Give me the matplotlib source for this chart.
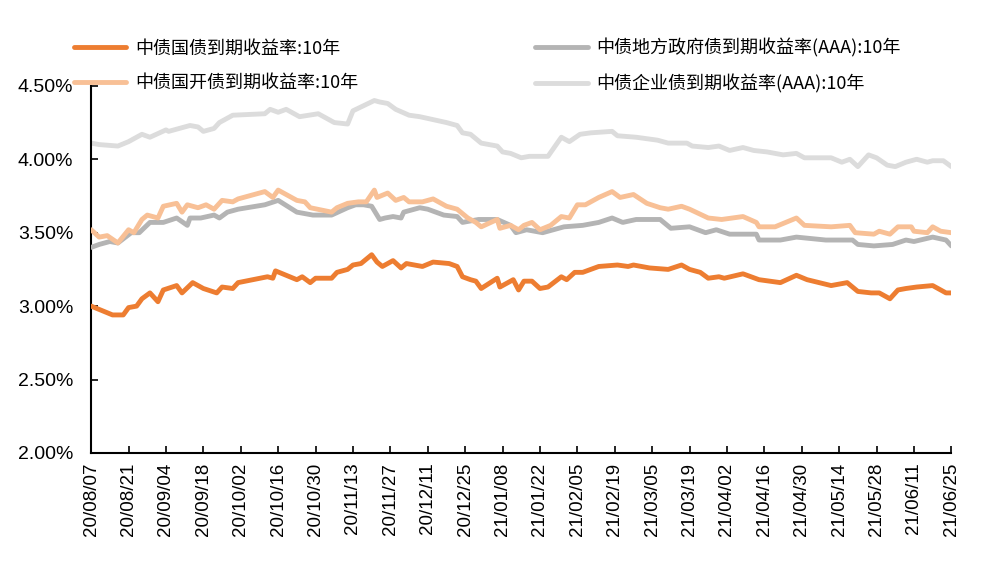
import matplotlib
matplotlib.use("Agg")
import matplotlib.pyplot as plt
import matplotlib.dates as md
import pandas as pd

plt.rcParams['font.family'] = ['Liberation Sans', 'Noto Sans CJK SC', 'DejaVu Sans']

start = pd.Timestamp('2020-08-07')

# days since 2020-08-07, yields in %
gov_days = [0, 8, 12, 14, 17, 19, 22, 25, 27, 32, 34, 38, 42, 47, 49, 53, 55, 66, 68, 69, 77, 79, 82, 84,
            90, 92, 96, 98, 101, 105, 107, 109, 113, 116, 118, 124, 128, 134, 137, 139, 142, 144, 146,
            152, 153, 156, 158, 160, 162, 165, 168, 171, 176, 178, 181, 184, 190, 197, 201, 203, 209,
            216, 221, 224, 228, 231, 235, 237, 244, 250, 258, 264, 268, 277, 283, 287, 292, 295, 299,
            302, 305, 309, 315, 318, 320, 322]
gov_vals = [3.00, 2.94, 2.94, 2.99, 3.00, 3.05, 3.09, 3.03, 3.11, 3.14, 3.09, 3.16, 3.12, 3.09, 3.13,
            3.12, 3.16, 3.20, 3.19, 3.24, 3.18, 3.20, 3.16, 3.19, 3.19, 3.23, 3.25, 3.28, 3.29, 3.35,
            3.30, 3.27, 3.31, 3.26, 3.29, 3.27, 3.30, 3.29, 3.27, 3.20, 3.18, 3.17, 3.12, 3.19, 3.13,
            3.16, 3.18, 3.11, 3.17, 3.17, 3.12, 3.13, 3.20, 3.18, 3.23, 3.23, 3.27, 3.28, 3.27, 3.28,
            3.26, 3.25, 3.28, 3.25, 3.23, 3.19, 3.20, 3.19, 3.22, 3.18, 3.16, 3.21, 3.18, 3.14, 3.16,
            3.10, 3.09, 3.09, 3.05, 3.11, 3.12, 3.13, 3.14, 3.11, 3.09, 3.09]

cdb_days = [0, 3, 6, 10, 14, 16, 19, 21, 25, 27, 32, 34, 36, 40, 43, 46, 49, 53, 55, 65, 68, 70, 77,
            80, 82, 90, 92, 96, 100, 103, 106, 107, 111, 114, 117, 119, 124, 128, 133, 137, 141, 144,
            146, 152, 153, 157, 160, 162, 165, 168, 172, 176, 179, 182, 185, 190, 195, 198, 203, 208,
            213, 216, 221, 224, 231, 236, 244, 249, 250, 256, 264, 267, 277, 284, 286, 293, 295, 299,
            302, 307, 308, 313, 315, 318, 322]
cdb_vals = [3.52, 3.47, 3.48, 3.43, 3.52, 3.50, 3.59, 3.62, 3.60, 3.68, 3.70, 3.64, 3.69, 3.67, 3.69,
            3.66, 3.72, 3.71, 3.73, 3.78, 3.74, 3.79, 3.72, 3.71, 3.67, 3.64, 3.67, 3.70, 3.71, 3.71,
            3.79, 3.74, 3.77, 3.72, 3.74, 3.71, 3.71, 3.73, 3.68, 3.66, 3.60, 3.57, 3.54, 3.59, 3.53,
            3.55, 3.52, 3.55, 3.57, 3.52, 3.55, 3.61, 3.60, 3.69, 3.69, 3.74, 3.78, 3.74, 3.76, 3.70,
            3.67, 3.66, 3.68, 3.66, 3.60, 3.59, 3.61, 3.57, 3.54, 3.54, 3.60, 3.55, 3.54, 3.55, 3.50,
            3.49, 3.51, 3.49, 3.54, 3.54, 3.51, 3.50, 3.54, 3.51, 3.50]

local_days = [0, 3, 7, 10, 15, 18, 22, 27, 32, 36, 37, 41, 46, 48, 51, 55, 65, 70, 77, 83, 90, 96,
              99, 102, 105, 108, 110, 113, 116, 117, 123, 126, 132, 137, 139, 145, 152, 157, 159, 163,
              169, 177, 184, 190, 195, 199, 204, 210, 213, 217, 224, 230, 234, 239, 249, 250, 258,
              264, 275, 285, 287, 293, 300, 305, 308, 315, 320, 322]
local_vals = [3.40, 3.42, 3.44, 3.43, 3.50, 3.50, 3.57, 3.57, 3.60, 3.55, 3.60, 3.60, 3.62, 3.60,
              3.64, 3.66, 3.69, 3.72, 3.64, 3.62, 3.62, 3.67, 3.69, 3.69, 3.68, 3.59, 3.60, 3.61,
              3.60, 3.64, 3.67, 3.66, 3.62, 3.61, 3.57, 3.59, 3.59, 3.55, 3.50, 3.52, 3.50, 3.54,
              3.55, 3.57, 3.60, 3.57, 3.59, 3.59, 3.59, 3.53, 3.54, 3.50, 3.52, 3.49, 3.49, 3.45,
              3.45, 3.47, 3.45, 3.45, 3.42, 3.41, 3.42, 3.45, 3.44, 3.47, 3.45, 3.41]

corp_days = [0, 3, 10, 14, 19, 22, 28, 29, 37, 40, 42, 46, 48, 53, 65, 67, 70, 73, 78, 85, 91, 96,
             98, 106, 108, 111, 114, 119, 123, 128, 133, 137, 139, 142, 146, 152, 154, 157, 161, 164,
             171, 176, 179, 183, 187, 195, 197, 204, 212, 216, 223, 225, 231, 235, 239, 244, 248, 253,
             259, 264, 267, 277, 281, 284, 287, 291, 294, 298, 301, 305, 309, 313, 315, 319, 322]
corp_vals = [4.11, 4.10, 4.09, 4.12, 4.17, 4.15, 4.20, 4.19, 4.23, 4.22, 4.19, 4.21, 4.25, 4.30,
             4.31, 4.34, 4.32, 4.34, 4.29, 4.31, 4.25, 4.24, 4.33, 4.40, 4.39, 4.38, 4.34, 4.30,
             4.29, 4.27, 4.25, 4.23, 4.18, 4.17, 4.11, 4.09, 4.05, 4.04, 4.01, 4.02, 4.02, 4.15,
             4.12, 4.17, 4.18, 4.19, 4.16, 4.15, 4.13, 4.11, 4.11, 4.09, 4.08, 4.09, 4.06, 4.08,
             4.06, 4.05, 4.03, 4.04, 4.01, 4.01, 3.98, 4.00, 3.95, 4.03, 4.01, 3.96, 3.95, 3.98,
             4.00, 3.98, 3.99, 3.99, 3.95]

labels = ['中债国债到期收益率:10年', '中债国开债到期收益率:10年',
          '中债地方政府债到期收益率(AAA):10年', '中债企业债到期收益率(AAA):10年']
colors = ['#ED7D31', '#F8C096', '#B4B4B4', '#DCDCDC']


def to_dates(days):
    return start + pd.to_timedelta(days, unit='D')


fig = plt.figure(figsize=(9.91, 5.80), dpi=100)
ax = fig.add_axes([0.092, 0.219, 0.868, 0.633])

series = [(gov_days, gov_vals), (cdb_days, cdb_vals), (local_days, local_vals), (corp_days, corp_vals)]
lines = []
# draw back to front like the original
for i in [3, 2, 1, 0]:
    d, v = series[i]
    ln, = ax.plot(to_dates(d), v, color=colors[i], lw=3.5, solid_capstyle='round', zorder=2 + (3 - i))
    lines.append((i, ln))
lines = [ln for i, ln in sorted(lines)]

yt = [2.0, 2.5, 3.0, 3.5, 4.0, 4.5]
ax.set_ylim(2.0, 4.5)
ax.set_yticks(yt)
ax.set_yticklabels(['%.2f%%' % t for t in yt], fontsize=14)

ticks = pd.date_range(start, periods=24, freq='14D')
ax.set_xlim(ticks[0], ticks[-1])
ax.set_xticks(ticks)
ax.xaxis.set_major_formatter(md.DateFormatter('%y/%m/%d'))
ax.tick_params(axis='x', rotation=90, labelsize=13.5, direction='in', length=5, width=1.2, pad=7)
ax.tick_params(axis='y', direction='in', length=5, width=1.2, pad=13)

for s in ['top', 'right']:
    ax.spines[s].set_visible(False)
for s in ['left', 'bottom']:
    ax.spines[s].set_linewidth(1.5)

fig.legend(lines, labels, ncol=2, loc='upper left', bbox_to_anchor=(0.058, 0.962),
           frameon=False, handlelength=2.9, handletextpad=0.5, columnspacing=9.8,
           labelspacing=0.92, prop={'family': ['Noto Sans CJK SC', 'DejaVu Sans'], 'size': 13})

fig.savefig('out.png', dpi=100)
